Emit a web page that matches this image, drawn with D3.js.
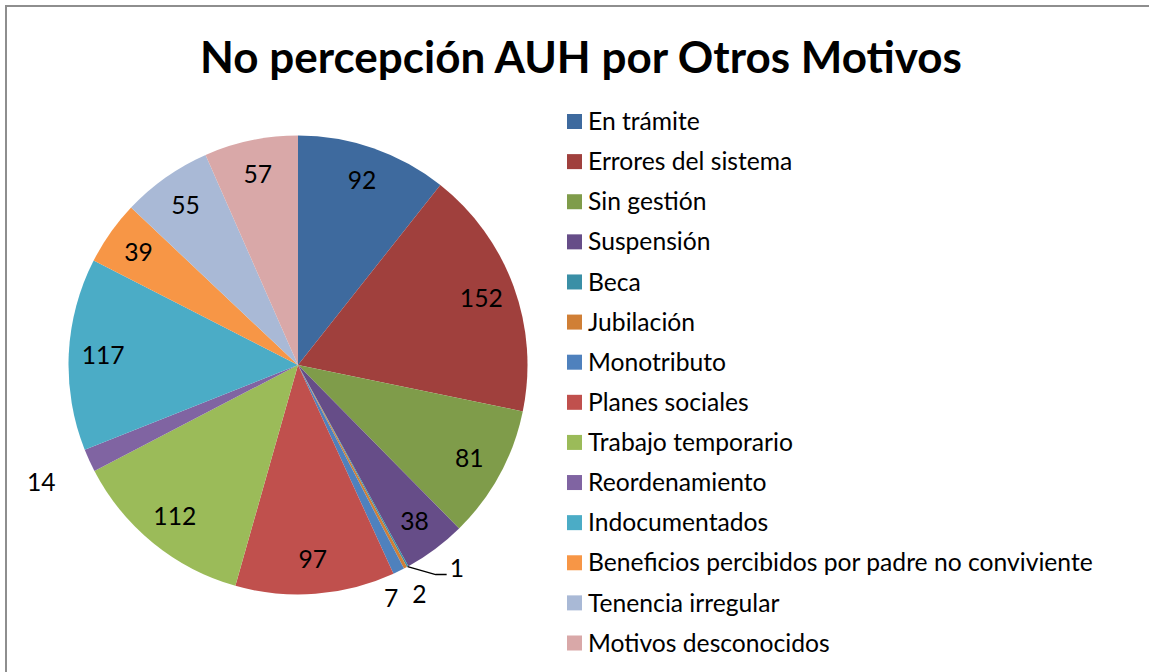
<!DOCTYPE html>
<html>
<head>
<meta charset="utf-8">
<script src="https://cdn.jsdelivr.net/npm/d3@7"></script>
<style>
  html, body { margin: 0; padding: 0; background: #fff; }
  svg { display: block; }
  text { font-family: Lato, "Open Sans", "DejaVu Sans", sans-serif; fill: #000; }
</style>
</head>
<body>
<svg id="chart" width="1149" height="672"></svg>
<script>
// ---- data ----
const title = "No percepción AUH por Otros Motivos";
const categories = [
  "En trámite", "Errores del sistema", "Sin gestión", "Suspensión", "Beca",
  "Jubilación", "Monotributo", "Planes sociales", "Trabajo temporario",
  "Reordenamiento", "Indocumentados", "Beneficios percibidos por padre no conviviente",
  "Tenencia irregular", "Motivos desconocidos"
];
const values = [92, 152, 81, 38, 1, 2, 7, 97, 112, 14, 117, 39, 55, 57];
const colors = [
  "#3E6A9E", "#A0403D", "#7F9C4A", "#664D88", "#3A8FA6", "#D07F36",
  "#4F81BD", "#C0504D", "#9BBB59", "#8064A2", "#4BACC6", "#F79646",
  "#A9B9D6", "#D9A8A8"
];

// ---- layout config ----
const W = 1149, H = 672;
const cx = 298, cy = 365, R = 229.5;
const insideFactor = 0.85;
// labels placed outside the pie (radius factor) and the one with a leader line
const outsideLabels = { "Jubilación": 1.13, "Monotributo": 1.13, "Reordenamiento": 1.23 };
const leaderLabels = { "Beca": { dx: 28, dy: 8, run: 11 } };

const svg = d3.select("#chart");

// frame
svg.append("rect")
  .attr("x", 6).attr("y", 6).attr("width", W + 20).attr("height", H + 20)
  .attr("fill", "#fff").attr("stroke", "#8e8e8e").attr("stroke-width", 2);

// title: fit to measured width
const titleText = svg.append("text")
  .attr("x", 581).attr("y", 73)
  .attr("text-anchor", "middle")
  .style("font-weight", "bold")
  .style("font-size", "40px")
  .text(title);
{
  const w = titleText.node().getComputedTextLength();
  titleText.style("font-size", (40 * 762 / w) + "px");
}

const data = categories.map((c, i) => ({ cat: c, value: values[i], color: colors[i] }));

const pie = d3.pie().sort(null).value(d => d.value).startAngle(0).endAngle(2 * Math.PI);
const arcs = pie(data);
const arc = d3.arc().innerRadius(0).outerRadius(R);

const g = svg.append("g").attr("transform", `translate(${cx},${cy})`);

g.selectAll("path.slice")
  .data(arcs)
  .join("path")
  .attr("class", "slice")
  .attr("d", arc)
  .attr("fill", d => d.data.color);

// font size for labels/legend: fit longest legend entry to its width in the reference
let fs = 22;
{
  const probe = svg.append("text").style("font-size", "22px").text(categories[11]);
  const w = probe.node().getComputedTextLength();
  fs = 22 * 505 / w;
  probe.remove();
}

// ---- data labels ----
const placed = [];
function overlaps(a, b) {
  return !(a.x2 < b.x1 || a.x1 > b.x2 || a.y2 < b.y1 || a.y1 > b.y2);
}
const labelG = g.append("g");
arcs.forEach(a => {
  const mid = (a.startAngle + a.endAngle) / 2;
  const cat = a.data.cat;
  if (leaderLabels[cat]) {
    const L = leaderLabels[cat];
    const p0 = [R * Math.sin(mid), -R * Math.cos(mid)];
    const p1 = [p0[0] + L.dx, p0[1] + L.dy];
    const p2 = [p1[0] + L.run, p1[1]];
    labelG.append("path")
      .attr("d", d3.line()([p0, p1, p2]))
      .attr("fill", "none").attr("stroke", "#000").attr("stroke-width", 1.5);
    labelG.append("text")
      .attr("x", p2[0] + 3).attr("y", p2[1] + 2)
      .attr("text-anchor", "start")
      .style("font-size", fs + "px")
      .text(a.data.value);
    return;
  }
  const f = outsideLabels[cat] || insideFactor;
  let x = f * R * Math.sin(mid);
  let y = -f * R * Math.cos(mid);
  const t = labelG.append("text")
    .attr("text-anchor", "middle")
    .attr("dy", "0.35em")
    .style("font-size", fs + "px")
    .text(a.data.value);
  const w = t.node().getComputedTextLength();
  const h = fs * 0.7;
  let box = { x1: x - w / 2, x2: x + w / 2, y1: y - h / 2, y2: y + h / 2 };
  if (outsideLabels[cat]) {
    placed.forEach(b => {
      if (overlaps(box, b)) {
        const nx2 = b.x1 - 14;
        x = nx2 - w / 2;
        box = { x1: x - w / 2, x2: x + w / 2, y1: box.y1, y2: box.y2 };
      }
    });
    placed.push(box);
  }
  t.attr("x", x).attr("y", y);
});

// ---- legend ----
const ly = d3.scalePoint().domain(categories).range([121.5, 643]);
const legend = svg.append("g");
const items = legend.selectAll("g")
  .data(data)
  .join("g")
  .attr("transform", d => `translate(567,${ly(d.cat)})`);
items.append("rect")
  .attr("x", 0).attr("y", -7.5).attr("width", 15).attr("height", 15)
  .attr("fill", d => d.color);
items.append("text")
  .attr("x", 21).attr("y", 0).attr("dy", "0.35em")
  .style("font-size", fs + "px")
  .text(d => d.cat);
</script>
</body>
</html>
